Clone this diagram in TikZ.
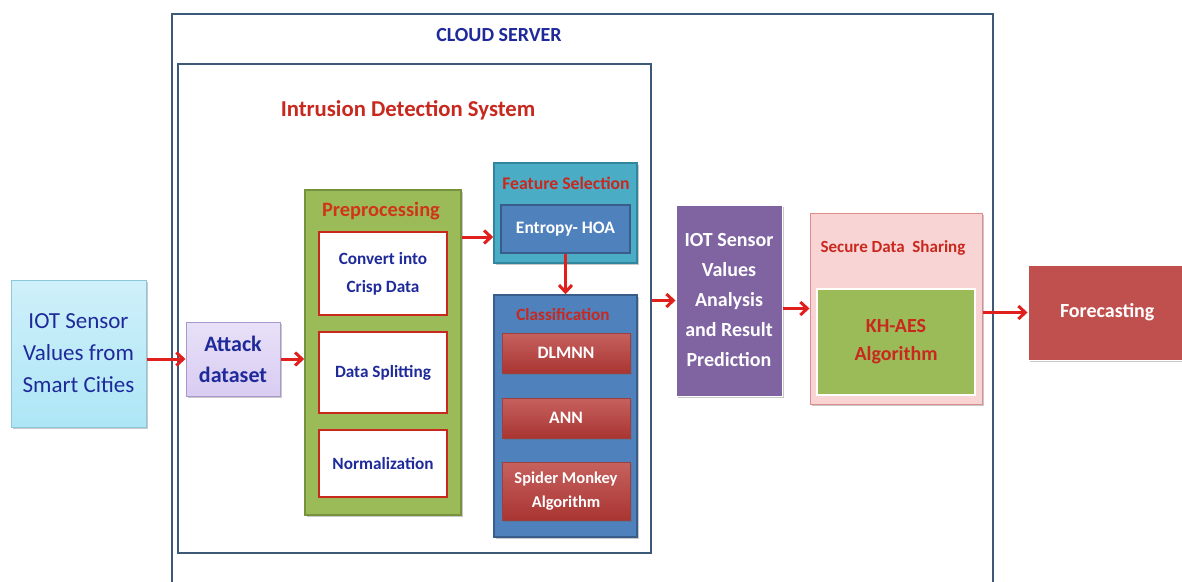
\documentclass[tikz,border=0pt]{standalone}
\usepackage{fontspec}
\setmainfont{Carlito}
\usetikzlibrary{arrows.meta,calc,shadows}
\definecolor{navy}{HTML}{1F2A9A}
\definecolor{redtxt}{HTML}{C8281E}
\definecolor{iotfill}{HTML}{AEE6F6}
\definecolor{iotdraw}{HTML}{8CC8DA}
\definecolor{attfill}{HTML}{D9CCF2}
\definecolor{attdraw}{HTML}{A898CC}
\definecolor{grn}{HTML}{9BBB59}
\definecolor{grndraw}{HTML}{76923C}
\definecolor{teal}{HTML}{4BACC6}
\definecolor{tealdraw}{HTML}{31859C}
\definecolor{blu}{HTML}{4F81BD}
\definecolor{bludraw}{HTML}{385D8A}
\definecolor{redbox}{HTML}{C0504D}
\definecolor{redboxdark}{HTML}{A93532}
\definecolor{purp}{HTML}{8064A2}
\definecolor{pinkfill}{HTML}{F9D4D4}
\definecolor{pinkdraw}{HTML}{E08A8A}
\definecolor{frame}{HTML}{3C5A78}
\definecolor{arrred}{HTML}{E0201C}
\tikzset{
  base/.style={rectangle, align=center, inner sep=2pt, font=\bfseries},
  shad/.style={drop shadow={shadow xshift=2pt, shadow yshift=-2pt, opacity=0.35, fill=black!60}},
  iotbox/.style={base, shad, top color=iotfill!60!white, bottom color=iotfill, draw=iotdraw, line width=1pt, text=navy, font=\fontsize{23}{32}\selectfont},
  attbox/.style={base, shad, top color=attfill!60!white, bottom color=attfill, draw=attdraw, line width=1pt, text=navy, font=\bfseries\fontsize{22}{31}\selectfont},
  prepbox/.style={base, shad, fill=grn, draw=grndraw, line width=1.5pt},
  whitebox/.style={base, fill=white, draw=redtxt, line width=2pt, text=navy, font=\bfseries\fontsize{17.2}{28}\selectfont},
  featbox/.style={base, shad, fill=teal, draw=tealdraw, line width=1.5pt},
  entbox/.style={base, fill=blu, draw=bludraw, line width=1.5pt, text=white, font=\bfseries\fontsize{17.5}{20}\selectfont},
  classbox/.style={base, shad, fill=blu, draw=bludraw, line width=1.5pt},
  redsub/.style={base, shad, top color=redbox!90!white, bottom color=redboxdark, draw=redbox!80!black, line width=0.5pt, text=white, font=\bfseries\fontsize{#1}{24}\selectfont},
  redsub/.default=16.5,
  purpbox/.style={base, shad, fill=purp, draw=white, line width=1pt, text=white, font=\bfseries\fontsize{20}{30}\selectfont},
  pinkbox/.style={base, shad, fill=pinkfill, draw=pinkdraw, line width=1pt},
  khbox/.style={base, fill=grn, draw=white, line width=2.5pt, text=redtxt, font=\bfseries\fontsize{20}{28}\selectfont},
  forebox/.style={base, shad, fill=redbox, draw=white, line width=1pt, text=white, font=\bfseries\fontsize{20}{24}\selectfont},
  framebox/.style={draw=frame, line width=2pt},
  ttl/.style={text=redtxt, font=\bfseries\fontsize{#1}{#1}\selectfont, inner sep=0pt},
  arr/.style={draw=arrred, line width=3pt, -{Straight Barb[length=7pt,width=13pt,line width=3pt]}}
}
\begin{document}
\begin{tikzpicture}[x=1pt,y=-1pt]
\clip (0,0) rectangle (1182,581);
\fill[white] (0,0) rectangle (1182,581);
% frames
\draw[framebox] (172,14) rectangle (993,600);
\node[text=navy, font=\bfseries\fontsize{20}{20}\selectfont] (cloudt) at (499,35) {CLOUD SERVER};
\node[draw=frame, line width=2pt, minimum width=473pt, minimum height=489pt, inner sep=0pt] (ids) at (414.5,308.5) {};
\node[ttl=22.7] (idst) at (408,110) {Intrusion Detection System};
% left
\node[iotbox, minimum width=135pt, minimum height=147pt] (iot) at (78.5,353.5) {IOT Sensor\\Values from\\Smart Cities};
\node[attbox, minimum width=94pt, minimum height=74pt] (att) at (233,359) {Attack\\dataset};
% preprocessing
\node[prepbox, minimum width=156pt, minimum height=325pt] (prep) at (383,352.5) {};
\node[ttl=20.4, text=redtxt!85!orange] (prept) at (381,211) {Preprocessing};
\node[whitebox, minimum width=128pt, minimum height=83pt] (conv) at (383,273.5) {Convert into\\Crisp Data};
\node[whitebox, minimum width=128pt, minimum height=81pt] (split) at (383,372.5) {Data Splitting};
\node[whitebox, minimum width=128pt, minimum height=67pt] (norm) at (383,463.5) {Normalization};
% feature selection
\node[featbox, minimum width=143pt, minimum height=100pt] (feat) at (565.5,213) {};
\node[ttl=17.7] (featt) at (566,183) {Feature Selection};
\node[entbox, minimum width=129pt, minimum height=48pt] (ent) at (565.5,229) {Entropy- HOA};
% classification
\node[classbox, minimum width=143pt, minimum height=242pt] (cls) at (565.5,416) {};
\node[ttl=17.2] (clst) at (563,315) {Classification};
\node[redsub=17.5, minimum width=128pt, minimum height=40pt] (dl) at (566,353) {DLMNN};
\node[redsub=17.5, minimum width=128pt, minimum height=40pt] (ann) at (566,418) {ANN};
\node[redsub, minimum width=128pt, minimum height=58pt] (sp) at (566,491) {Spider Monkey\\Algorithm};
% analysis
\node[purpbox, minimum width=106pt, minimum height=191pt] (ana) at (729,300.5) {IOT Sensor\\Values\\Analysis\\and Result\\Prediction};
% secure
\node[pinkbox, minimum width=172pt, minimum height=191pt] (sec) at (896,308.5) {};
\node[ttl=17] (sect) at (893,248) {Secure Data\ \ Sharing};
\node[khbox, minimum width=158pt, minimum height=106pt] (kh) at (896,342) {KH-AES\\Algorithm};
% forecasting
\node[forebox, minimum width=154pt, minimum height=95pt, text width=130pt, align=left] (fore) at (1105,312.5) {\hspace*{20pt}\raisebox{-2pt}{Forecasting}};
% arrows
\draw[arr] (iot.east |- att.west) -- (att.west);
\draw[arr] (att.east) -- (att.east -| prep.west);
\coordinate (fin) at ($(feat.west)+(0,24)$);
\draw[arr] (fin -| prep.east) -- (fin);
\draw[arr] (ent.south) -- (cls.north);
\draw[arr] (ids.east |- ana.west) -- (ana.west);
\draw[arr] (ana.east |- sec.west) -- (sec.west);
\draw[arr] (sec.east |- fore.west) -- (fore.west);
\end{tikzpicture}
\end{document}
